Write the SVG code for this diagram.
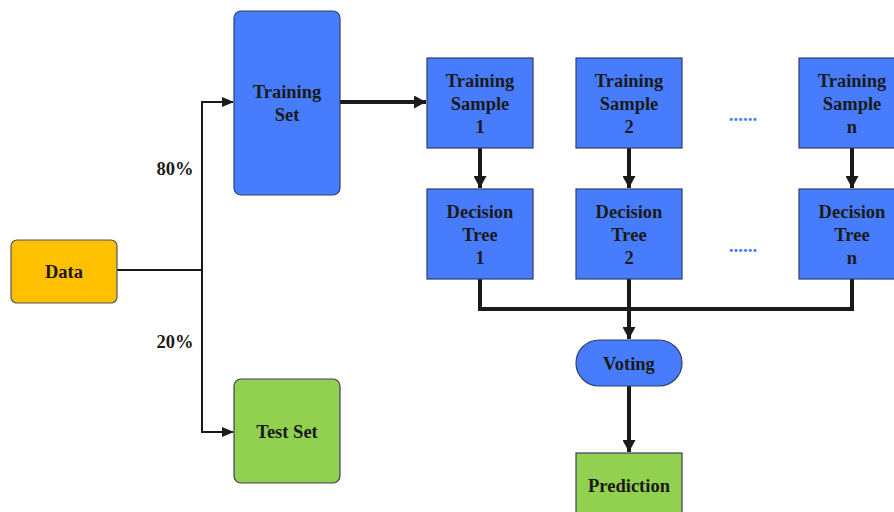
<svg xmlns="http://www.w3.org/2000/svg" width="894" height="512" viewBox="0 0 894 512">
<style>
text{font-family:"Liberation Serif","Times New Roman",serif;font-weight:bold;font-size:18.5px;fill:#1a1a1a;text-anchor:middle}
.blue{fill:#477CFD;stroke:#2E3F6E;stroke-width:1.2}
.green{fill:#92D050;stroke:#3A3F5C;stroke-width:1.2}
.orange{fill:#FFC000;stroke:#555;stroke-width:1.2}
.thin{fill:none;stroke:#1a1a1a;stroke-width:2}
.thick{fill:none;stroke:#1a1a1a;stroke-width:4}
.dots{fill:#477CFD;font-size:19px}
</style>
<defs>
<marker id="ah" markerWidth="12" markerHeight="10" refX="11" refY="5" orient="auto" markerUnits="userSpaceOnUse"><path d="M0,0 L12,5 L0,10 z" fill="#1a1a1a"/></marker>
<marker id="ahb" markerWidth="12" markerHeight="13" refX="12" refY="6.5" orient="auto" markerUnits="userSpaceOnUse"><path d="M0,0 L12,6.5 L0,13 z" fill="#1a1a1a"/></marker>
</defs>
<g id="connectors">
<path class="thin" d="M117,270 H202"/>
<path class="thin" d="M202,270 V102 H233" marker-end="url(#ah)"/>
<path class="thin" d="M202,270 V432 H233" marker-end="url(#ah)"/>
<path class="thick" d="M340,102 H426" marker-end="url(#ahb)"/>
<path class="thick" d="M480,148 V188" marker-end="url(#ahb)"/>
<path class="thick" d="M629,148 V188" marker-end="url(#ahb)"/>
<path class="thick" d="M852,148 V188" marker-end="url(#ahb)"/>
<path class="thick" d="M480,279 V309 H852 V279"/>
<path class="thick" d="M629,279 V339" marker-end="url(#ahb)"/>
<path class="thick" d="M629,386 V452" marker-end="url(#ahb)"/>
</g>
<g id="label-80"><text x="175" y="175">80%</text></g>
<g id="label-20"><text x="175" y="348">20%</text></g>
<g id="data"><rect class="orange" x="11" y="240" width="106" height="63" rx="6"/><text x="64" y="278">Data</text></g>
<g id="training-set"><rect class="blue" x="234" y="11" width="106" height="184" rx="7"/><text x="287" y="98">Training</text><text x="287" y="121">Set</text></g>
<g id="test-set"><rect class="green" x="234" y="379" width="106" height="104" rx="7"/><text x="287" y="438">Test Set</text></g>
<g id="sample-1"><rect class="blue" x="427" y="58" width="106" height="90"/><text x="480" y="87">Training</text><text x="480" y="110">Sample</text><text x="480" y="133">1</text></g>
<g id="sample-2"><rect class="blue" x="576" y="58" width="106" height="90"/><text x="629" y="87">Training</text><text x="629" y="110">Sample</text><text x="629" y="133">2</text></g>
<g id="sample-n"><rect class="blue" x="799" y="58" width="106" height="90"/><text x="852" y="87">Training</text><text x="852" y="110">Sample</text><text x="852" y="133">n</text></g>
<g id="tree-1"><rect class="blue" x="427" y="189" width="106" height="90"/><text x="480" y="218">Decision</text><text x="480" y="241">Tree</text><text x="480" y="264">1</text></g>
<g id="tree-2"><rect class="blue" x="576" y="189" width="106" height="90"/><text x="629" y="218">Decision</text><text x="629" y="241">Tree</text><text x="629" y="264">2</text></g>
<g id="tree-n"><rect class="blue" x="799" y="189" width="106" height="90"/><text x="852" y="218">Decision</text><text x="852" y="241">Tree</text><text x="852" y="264">n</text></g>
<g id="dots-1"><text class="dots" x="743" y="121">......</text></g>
<g id="dots-2"><text class="dots" x="743" y="252">......</text></g>
<g id="voting"><rect class="blue" x="576" y="340" width="106" height="46" rx="23"/><text x="629" y="370">Voting</text></g>
<g id="prediction"><rect class="green" x="576" y="453" width="106" height="70"/><text x="629" y="492">Prediction</text></g>
</svg>
